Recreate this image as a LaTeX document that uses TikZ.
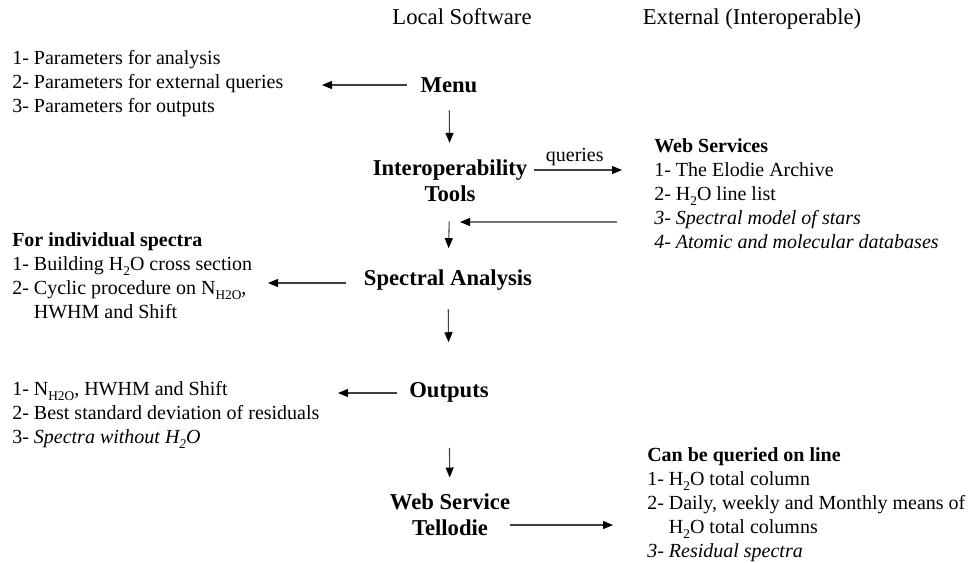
\documentclass[tikz,border=0pt]{standalone}
\usepackage{fontspec}
\setmainfont{Liberation Serif}
\usetikzlibrary{arrows.meta}

\newcommand{\sbs}[1]{\raisebox{-0.28em}{\fontsize{10}{10}\selectfont #1}}

\tikzset{
  arr/.style={draw=black!75, line width=0.8pt, -{Triangle[length=7.5pt,width=6pt,black]}},
  head/.style={font=\fontsize{17}{20}\selectfont, anchor=base, inner sep=0pt},
  box/.style={font=\fontsize{17}{19.5}\selectfont\bfseries, align=center, anchor=base, inner sep=0pt},
  lst/.style={font=\fontsize{15}{18}\selectfont, align=left, anchor=base west, inner sep=0pt},
}

\begin{document}
\begin{tikzpicture}[x=0.75pt,y=-0.75pt]
  \useasboundingbox (0,0) rectangle (974,562);
  % column titles
  \node[head] (LS) at (462,24.5) {Local Software};
  \node[head] (EX) at (752,24.5) {External (Interoperable)};
  % centre column (base = last line)
  \node[box] (M)   at (449,92.5)  {Menu};
  \node[box] (IT)  at (450,201.5) {Interoperability\\Tools};
  \node[box] (SA)  at (448,285.5) {Spectral Analysis};
  \node[box] (OUT) at (449,397.5) {Outputs};
  \node[box] (WST) at (450,535.5) {Web Service\\Tellodie};
  % lists (base = last line)
  \node[lst] (P) at (12,112) {1- Parameters for analysis\\
    2- Parameters for external queries\\3- Parameters for outputs};
  \node[lst] (WS) at (654,248) {\textbf{Web Services}\\1- The Elodie Archive\\
    2- H\sbs{2}O line list\\\textit{3- Spectral model of stars}\\
    \textit{4- Atomic and molecular databases}};
  \node[lst] (SP) at (12,318) {\textbf{For individual spectra}\\
    1- Building H\sbs{2}O cross section\\
    2- Cyclic procedure on N\sbs{H2O},\\\hphantom{2- }HWHM and Shift};
  \node[lst] (O) at (12,443) {1- N\sbs{H2O}, HWHM and Shift\\
    2- Best standard deviation of residuals\\3- \textit{Spectra without H\sbs{2}O}};
  \node[lst] (Q) at (647,557) {\textbf{Can be queried on line}\\1- H\sbs{2}O total column\\
    2- Daily, weekly and Monthly means of\\\hphantom{2- }H\sbs{2}O total columns\\
    \textit{3- Residual spectra}};
  % free arrow ends
  \coordinate (pm) at (322,85);
  \coordinate (qe) at (622,170);
  \coordinate (rt) at (460,222);
  \coordinate (st) at (268,283);
  \coordinate (ot) at (338,393);
  \coordinate (wt) at (613,525);
  % arrows
  \draw[arr, shorten <=10pt] (M.west |- pm) -- (pm);
  \draw[arr, shorten <=13pt, shorten >=12.5pt] (M) -- (IT);
  \draw[arr, shorten <=5pt] (IT.east |- qe) -- node[lst, anchor=base, yshift=6.75pt] {queries} (qe);
  \draw[arr, draw=black!55, shorten <=28pt] (WS.west |- rt) -- (rt);
  \draw[arr, shorten <=14.5pt, shorten >=16pt] (IT) -- (SA);
  \draw[arr, shorten <=13pt] (SA.west |- st) -- (st);
  \draw[arr, shorten <=14pt, shorten >=30pt] (SA) -- (OUT);
  \draw[arr, shorten <=9pt] (OUT.west |- ot) -- (ot);
  \draw[arr, shorten <=34pt, shorten >=12pt] (OUT) -- (WST);
  \draw[arr] (WST.east |- wt) -- (wt);
\end{tikzpicture}
\end{document}
